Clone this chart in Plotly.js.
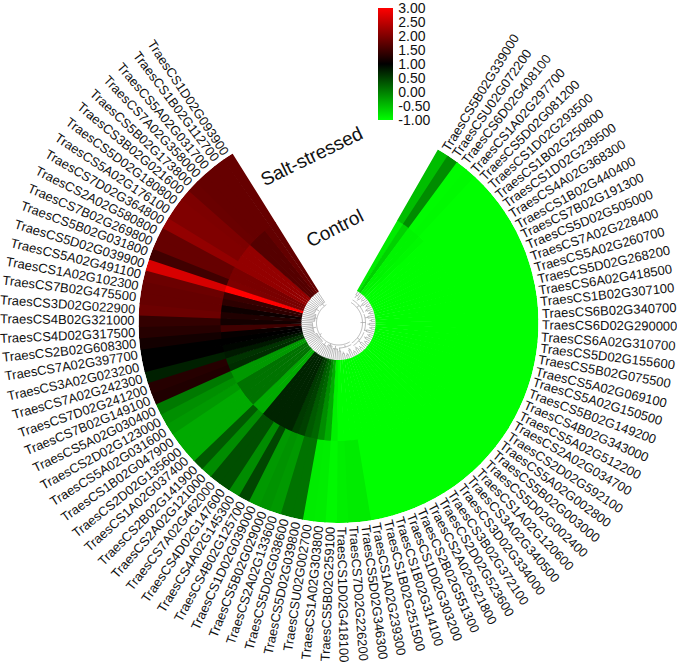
<!DOCTYPE html>
<html><head><meta charset="utf-8">
<script src="https://cdn.plot.ly/plotly-3.0.1.min.js"></script>
<style>html,body{margin:0;padding:0;background:#fff;overflow:hidden}#c{width:677px;height:663px}</style>
</head><body><div id="c"></div>
<script>
const genes = ["TraesCS5B02G339000","TraesCSU02G072200","TraesCS6D02G408100","TraesCS1A02G297700","TraesCS5D02G081200","TraesCS1D02G293500","TraesCS1B02G250800","TraesCS1D02G239500","TraesCS4A02G368300","TraesCS1B02G440400","TraesCS7B02G191300","TraesCS5D02G505000","TraesCS7A02G228400","TraesCS5A02G260700","TraesCS5D02G268200","TraesCS6A02G418500","TraesCS1B02G307100","TraesCS6B02G340700","TraesCS6D02G290000","TraesCS6A02G310700","TraesCS5D02G155600","TraesCS5B02G075500","TraesCS5A02G069100","TraesCS5A02G150500","TraesCS5B02G149200","TraesCS4B02G343000","TraesCS5A02G512200","TraesCS2A02G034700","TraesCS2D02G592100","TraesCS5A02G002800","TraesCS5B02G003000","TraesCS5D02G002400","TraesCS1A02G120600","TraesCS3A02G340500","TraesCS3D02G334000","TraesCS3B02G372100","TraesCS2D02G523600","TraesCS2A02G521800","TraesCS2B02G551300","TraesCS1D02G303200","TraesCS1B02G314100","TraesCS1B02G251500","TraesCS1A02G239300","TraesCS5D02G346300","TraesCS7D02G226200","TraesCS1D02G418100","TraesCS5B02G259100","TraesCS1A02G303800","TraesCSU02G002700","TraesCS5D02G039800","TraesCS5D02G038600","TraesCS2A02G133600","TraesCS5B02G029000","TraesCS1D02G039000","TraesCS4B02G125700","TraesCS4A02G145300","TraesCS4D02G147600","TraesCS7A02G462000","TraesCS2A02G121000","TraesCS2B02G141900","TraesCS1A02G037400","TraesCS2D02G135600","TraesCS1B02G047900","TraesCS5A02G031600","TraesCS2D02G123000","TraesCS5A02G030400","TraesCS7B02G149100","TraesCS7D02G241200","TraesCS7A02G242300","TraesCS3A02G023200","TraesCS7A02G397700","TraesCS2B02G608300","TraesCS4D02G317500","TraesCS4B02G321000","TraesCS3D02G022900","TraesCS7B02G475500","TraesCS1A02G102300","TraesCS5A02G491100","TraesCS5D02G039900","TraesCS5B02G031800","TraesCS7B02G269800","TraesCS2A02G580800","TraesCS7D02G364800","TraesCS5A02G176100","TraesCS5D02G180800","TraesCS3B02G021600","TraesCS5B02G173800","TraesCS7A02G358000","TraesCS5A02G031700","TraesCS1B02G112700","TraesCS1D02G093900"];
const control = [-.85,-.65,-.92,-.92,-.95,-1,-1,-1,-1,-1,-1,-1,-1,-1,-1,-1,-1,-1,-1,-1,-1,-1,-1,-1,-1,-1,-1,-1,-1,-1,-1,-1,-1,-1,-1,-1,-1,-1,-1,-1,-1,-1,-1,-1,-1,-1,-.9,-.35,-.1,.2,.3,.5,.55,.72,.72,.72,.72,.72,-.33,-.33,.1,.1,.1,.1,-.2,-.2,.65,.6,.8,.95,1,1.05,1.5,1.15,1.25,1.1,1.35,1.45,3,1.98,1.95,1.95,2.15,2.15,2.15,2.15,1.67,1.67,1.67,1.78,1.78];
const salt = [-.49,-.1,-.98,-.96,-1,-1,-1,-1,-1,-1,-1,-1,-1,-1,-1,-1,-1,-1,-1,-1,-1,-1,-1,-1,-1,-1,-1,-1,-1,-1,-1,-1,-1,-1,-1,-1,-1,-1,-1,-1,-1,-1,-1,-.85,-.85,-.88,-.95,-.87,-.85,.1,.1,-.2,-.15,-.2,.45,-.1,.38,.38,-.1,.3,-.33,-.33,-.33,-.2,-.12,.05,1.25,1.3,.75,1,1,1.15,1.3,1.4,1.85,1.8,1.8,1.85,2.69,1.5,1.8,1.8,2.15,2,2,1.98,1.82,1.8,1.8,1.8,1.8];
const cbTicks = [3,2.5,2,1.5,1,.5,0,-.5,-1];
const cbText = ["3.00","2.50","2.00","1.50","1.00","0.50","0.00","-0.50","-1.00"];
const ringLabels = ["Salt-stressed","Control"];
// dendrogram: radius at which each leaf stops, and merges [first leaf, last leaf, radius, parent radius]
const leafStop = [33,33,31,31,33,33,30,30,33,33,31,31,33,33,30,30,33,33,31,31,33,33,29,29,33,33,31,31,33,33,30,30,33,33,31,31,33,33,29,29,33,33,31,31,28,28,26,26,26,26,24,24,24,24,26,26,26,26,24,24,24,24,24,24,24,24,26,26,26,26,26,26,26,26,24,24,24,24,24,24,26,26,26,26,26,26,25,25,25,25,25];
const merges = [[0,1,33,30],[2,3,31,29],[4,5,33,31],[6,7,30,27],[8,9,33,31],[10,11,31,29],[12,13,33,31],[14,15,30,27],[16,17,33,31],[18,19,31,29],[20,21,33,31],[22,23,29,27],[24,25,33,31],[26,27,31,29],[28,29,33,31],[30,31,30,27],[32,33,33,31],[34,35,31,29],[36,37,33,31],[38,39,29,27],[40,41,33,31],[42,43,31,29],[44,45,28,25],[46,49,26,23],[50,53,24,22],[54,57,26,23],[58,65,24,22],[66,73,26,23],[74,79,24,22],[80,85,26,23],[86,90,25,22],[0,11,27,24],[12,23,27,24],[24,35,27,24],[36,45,25,23],[0,35,24,22],[36,90,22,20]];

const n = genes.length, startDeg = 30, sweep = 298, step = sweep / n;
const rIn = 37, rMid = 118, rOut = 200, cx = 338.5, cy = 323;
const thetas = genes.map((_, i) => startDeg + (i + .5) * step);
const cs = [[0,'#00ff00'],[.5,'#000000'],[1,'#ff0000']];
const font = 'Liberation Sans, Arial, sans-serif';

function ring(vals, base, top, showbar, name) {
  return {type:'barpolar', name, theta:thetas, r:vals.map(()=>top-base), base:vals.map(()=>base),
    width:vals.map((_,i)=> i===vals.length-1 ? step : step+.4), text:genes, hoverinfo:'text',
    marker:{color:vals, cmin:-1, cmax:3, colorscale:cs, showscale:showbar, line:{width:0},
      colorbar: showbar ? {x:378/677, xanchor:'left', y:1-120/663, yanchor:'bottom', len:112, lenmode:'pixels',
        thickness:15, thicknessmode:'pixels', xpad:0, ypad:0, outlinewidth:0, borderwidth:0, ticklabeloverflow:'allow',
        tickmode:'array', tickvals:cbTicks, ticktext:cbText, ticks:'outside', ticklen:3, tickcolor:'rgba(0,0,0,0)',
        tickfont:{family:font, size:14, color:'#111'}} : undefined}};
}
// tree line
const tr=[], tt=[];
leafStop.forEach((s,i)=>{tr.push(rIn,s,null);tt.push(thetas[i],thetas[i],null);});
merges.forEach(([a,b,r0,p])=>{
  const t0=thetas[a],t1=thetas[b],k=Math.max(2,Math.ceil((t1-t0)/2));
  for(let j=0;j<=k;j++){tr.push(r0);tt.push(t0+(t1-t0)*j/k);}
  tr.push(null);tt.push(null);
  const mid=(t0+t1)/2; tr.push(r0,p,null);tt.push(mid,mid,null);
});
const tree={type:'scatterpolar',mode:'lines',r:tr,theta:tt,line:{color:'#9c9c9c',width:.7},hoverinfo:'skip',connectgaps:false};

const ctx=document.createElement('canvas').getContext('2d');
ctx.font='13px "Liberation Sans"';
const labelGap=203.5;
const anns=genes.map((g,i)=>{
  const a=thetas[i], right=a<180, w=ctx.measureText(g).width;
  const rr=labelGap+w/2, rad=a*Math.PI/180;
  return {text:g, xref:'paper', yref:'paper', x:(cx+rr*Math.sin(rad))/677, y:1-(cy-rr*Math.cos(rad))/663,
    xanchor:'center', yanchor:'middle', showarrow:false, textangle:right?a-90:a-270,
    font:{family:font, size:13, color:'#111'}, borderpad:0, borderwidth:0};
});
anns.push({text:ringLabels[0],xref:'paper',yref:'paper',x:311/677,y:1-156/663,xanchor:'center',yanchor:'middle',showarrow:false,textangle:-26,font:{family:font,size:19,color:'#111'}});
anns.push({text:ringLabels[1],xref:'paper',yref:'paper',x:334/677,y:1-228/663,xanchor:'center',yanchor:'middle',showarrow:false,textangle:-27,font:{family:font,size:19,color:'#111'}});

// inner ring drawn slightly past the boundary so no seam shows between the rings
Plotly.newPlot('c',[ring(control,rIn,rMid+.8,true,'Control'),ring(salt,rMid,rOut,false,'Salt-stressed'),tree],{
  width:677,height:663,margin:{l:0,r:0,t:0,b:0},paper_bgcolor:'#fff',showlegend:false,
  polar:{domain:{x:[(cx-rOut)/677,(cx+rOut)/677],y:[1-(cy+rOut)/663,1-(cy-rOut)/663]},bgcolor:'rgba(0,0,0,0)',
    barmode:'overlay',
    radialaxis:{range:[0,rOut],visible:false,showgrid:false},
    angularaxis:{direction:'clockwise',rotation:90,thetaunit:'degrees',visible:false,showgrid:false}},
  annotations:anns
},{displayModeBar:false,staticPlot:true});
</script></body></html>
